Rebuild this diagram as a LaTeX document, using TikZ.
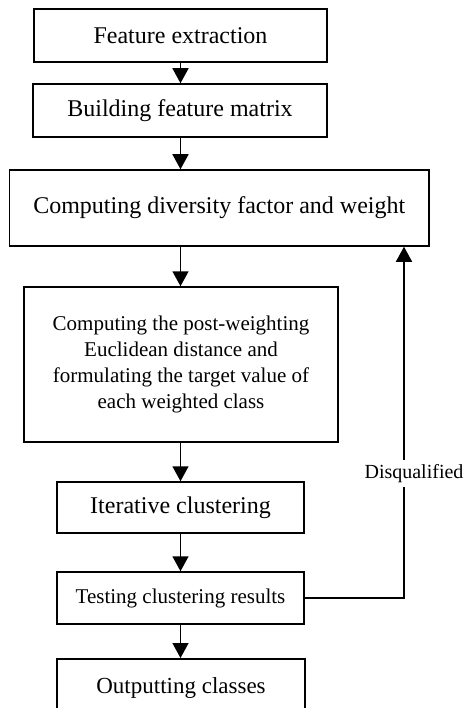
\documentclass[tikz,border=0pt]{standalone}
\usepackage{fontspec}
\setmainfont{Liberation Serif}
\usetikzlibrary{arrows.meta}
\begin{document}
\begin{tikzpicture}[x=1pt,y=-1pt,
  box/.style={draw,line width=1.5pt,inner sep=0pt,align=center},
  big/.style={font=\fontsize{24}{28}\selectfont},
  mid/.style={font=\fontsize{21}{26}\selectfont},
  arr/.style={line width=1.5pt,-{Triangle[length=15pt,width=16pt]}},
  ln/.style={line width=1.5pt}]
\useasboundingbox (0,0) rectangle (466,708);
\node[box,big,minimum width=293pt,minimum height=53pt] (t1) at (180.5,35.5) {Feature extraction};
\node[box,big,minimum width=294pt,minimum height=53pt] (t2) at (180,110.5) {Building feature matrix};
\node[box,big,minimum width=419.5pt,minimum height=76pt] (t3) at (219.25,208) {Computing diversity factor and weight};
\node[box,mid,minimum width=314pt,minimum height=155pt] (t4) at (181,364.5) {Computing the post-weighting\\Euclidean distance and\\formulating the target value of\\each weighted class};
\node[box,big,minimum width=247pt,minimum height=51pt] (t5) at (180.5,507.5) {Iterative clustering};
\node[box,mid,minimum width=247pt,minimum height=52pt] (t6) at (180.5,598) {Testing clustering results};
\node[box,font=\fontsize{23}{27}\selectfont,minimum width=248pt,minimum height=60pt,anchor=north] (t7) at (181,658) {\raisebox{6pt}{Outputting classes}};
\node[font=\fontsize{20}{24}\selectfont,inner xsep=0pt,inner ysep=4.5pt] (lab) at (414,473.5) {Disqualified};
\coordinate (c1) at (404,598);
\draw[arr] (180.5,0 |- t1.south) -- (180.5,0 |- t2.north);
\draw[arr] (180.5,0 |- t2.south) -- (180.5,0 |- t3.north);
\draw[arr] (180.5,0 |- t3.south) -- (180.5,0 |- t4.north);
\draw[arr] (180.5,0 |- t4.south) -- (180.5,0 |- t5.north);
\draw[arr] (180.5,0 |- t5.south) -- (180.5,0 |- t6.north);
\draw[arr] (180.5,0 |- t6.south) -- (180.5,0 |- t7.north);
\draw[ln] (t6.east) -- (c1) -- (c1 |- lab.south);
\draw[arr] (c1 |- lab.north) -- (c1 |- t3.south);
\end{tikzpicture}
\end{document}
